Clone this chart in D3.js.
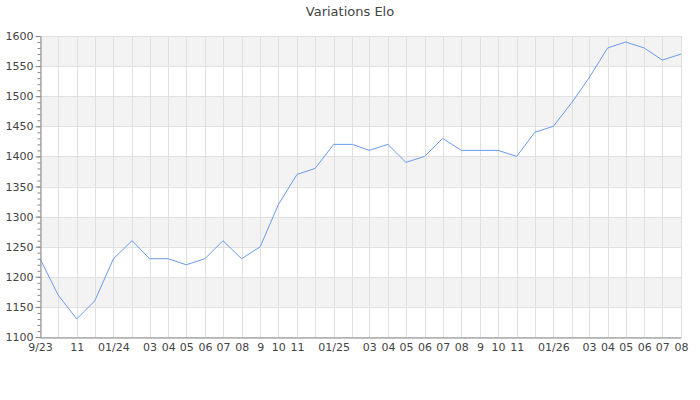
<!DOCTYPE html>
<html><head><meta charset="utf-8">
<script src="https://cdn.jsdelivr.net/npm/d3@7"></script>
<style>
body{margin:0;background:#fff;}
svg{font-family:"DejaVu Sans",sans-serif;}
</style></head>
<body><svg id="c" width="700" height="400"></svg>
<script>
const months = ["2023-09","2023-10","2023-11","2023-12","2024-01","2024-02","2024-03","2024-04","2024-05","2024-06","2024-07","2024-08","2024-09","2024-10","2024-11","2024-12","2025-01","2025-02","2025-03","2025-04","2025-05","2025-06","2025-07","2025-08","2025-09","2025-10","2025-11","2025-12","2026-01","2026-02","2026-03","2026-04","2026-05","2026-06","2026-07","2026-08"];
const elo = [1230,1170,1130,1160,1230,1260,1230,1230,1220,1230,1260,1230,1250,1320,1370,1380,1420,1420,1410,1420,1390,1400,1430,1410,1410,1410,1400,1440,1450,1490,1530,1580,1590,1580,1560,1570];
const tickMonths = ["2023-09","2023-11","2024-01","2024-03","2024-04","2024-05","2024-06","2024-07","2024-08","2024-09","2024-10","2024-11","2025-01","2025-03","2025-04","2025-05","2025-06","2025-07","2025-08","2025-09","2025-10","2025-11","2026-01","2026-03","2026-04","2026-05","2026-06","2026-07","2026-08"];
const tickLabels = ["9/23","11","01/24","03","04","05","06","07","08","9","10","11","01/25","03","04","05","06","07","08","9","10","11","01/26","03","04","05","06","07","08"];
const yTicks = [1100,1150,1200,1250,1300,1350,1400,1450,1500,1550,1600];
const title = "Variations Elo";

const parse = d3.timeParse("%Y-%m");
const dates = months.map(parse);
const svg = d3.select("#c");
const L=40, R=681, T=36, B=337;
const x = d3.scaleTime().domain([dates[0], dates[dates.length-1]]).range([L,R]);
const y = d3.scaleLinear().domain([1100,1600]).range([B,T]);

// bands
const bands = [];
for(let i=0;i<yTicks.length-1;i++) bands.push([yTicks[i], yTicks[i+1], i]);
svg.append("g").selectAll("rect").data(bands).join("rect")
  .attr("x",L).attr("width",R-L)
  .attr("y",d=>y(d[1])).attr("height",d=>y(d[0])-y(d[1]))
  .attr("fill",d=>d[2]%2===0?"#ffffff":"#f3f3f3");

// grid
const grid = svg.append("g").attr("stroke","#e0e0e0").attr("stroke-width",1);
grid.selectAll("line.v").data(dates).join("line").attr("class","v")
  .attr("x1",d=>Math.round(x(d))+0.5).attr("x2",d=>Math.round(x(d))+0.5)
  .attr("y1",T).attr("y2",B);
grid.selectAll("line.h").data(yTicks).join("line").attr("class","h")
  .attr("x1",L).attr("x2",R)
  .attr("y1",d=>Math.round(y(d))+0.5).attr("y2",d=>Math.round(y(d))+0.5);

// line
svg.append("path").datum(elo)
  .attr("fill","none").attr("stroke","#6a9af0").attr("stroke-width",1)
  .attr("d", d3.line().x((d,i)=>x(dates[i])).y(d=>y(d)));

// y axis minor
const minor = d3.range(1100,1601,10);
svg.append("g").attr("transform",`translate(${L+0.5},0)`)
  .call(d3.axisLeft(y).tickValues(minor).tickSize(3).tickFormat(""))
  .call(g=>g.select(".domain").remove())
  .call(g=>g.selectAll("line").attr("stroke","#888"));
// y axis major
svg.append("g").attr("transform",`translate(${L+0.5},0)`)
  .call(d3.axisLeft(y).tickValues(yTicks).tickSize(5).tickSizeOuter(0).tickPadding(2).tickFormat(d3.format("d")))
  .call(g=>g.select(".domain").attr("stroke","#888"))
  .call(g=>g.selectAll("line").attr("stroke","#888"))
  .call(g=>g.selectAll("text").attr("fill","#444").style("font-size","11px").style("font-family","DejaVu Sans"));

// x axis
const tickDates = tickMonths.map(parse);
svg.append("g").attr("transform",`translate(0,${B+0.5})`)
  .call(d3.axisBottom(x).tickValues(tickDates).tickSize(0).tickSizeOuter(0).tickPadding(6)
    .tickFormat((d,i)=>tickLabels[i]))
  .call(g=>g.select(".domain").attr("stroke","#888"))
  .call(g=>g.selectAll("text").attr("fill","#444").style("font-size","11px").style("font-family","DejaVu Sans"));

svg.append("text").attr("x",350).attr("y",16).attr("text-anchor","middle")
  .attr("fill","#444").style("font-size","13px").text(title);
</script></body></html>
